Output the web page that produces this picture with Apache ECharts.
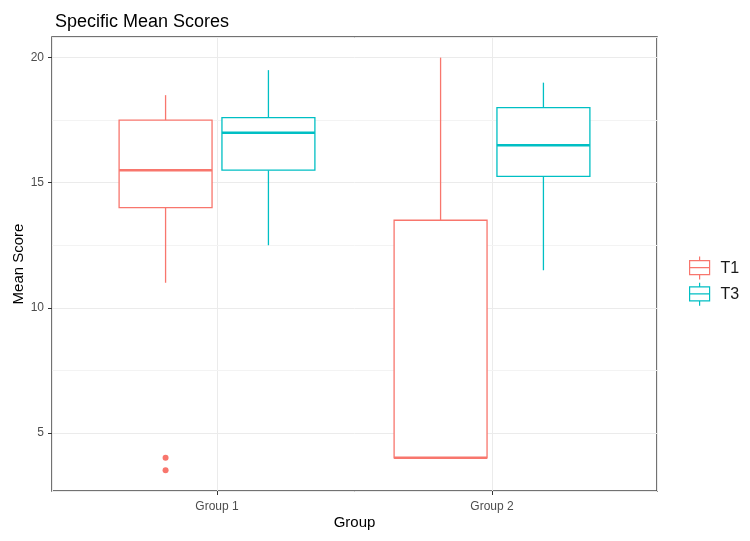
<!DOCTYPE html>
<html>
<head>
<meta charset="utf-8">
<script src="https://cdn.jsdelivr.net/npm/echarts@6/dist/echarts.min.js"></script>
<style>
  html, body { margin: 0; padding: 0; background: #fff; }
  #main { width: 750px; height: 541px; }
</style>
</head>
<body>
<div id="main"></div>
<script>
// 数据: [min, q1, median, q3, max]
var categories = ['Group 1', 'Group 2'];
var seriesNames = ['T1', 'T3'];
var t1Stats = [[11, 14, 15.5, 17.5, 18.5], [4, 4, 4, 13.5, 20]];
var t3Stats = [[12.5, 15.5, 17, 17.6, 19.5], [11.5, 15.25, 16.5, 18, 19]];
// [group index, value]
var t1Outliers = [[0, 4], [0, 3.5]];
var yTicks = [5, 10, 15, 20];
var yMinor = [7.5, 12.5, 17.5];

var colors = { T1: '#F8766D', T3: '#00BFC4' };
var dodge = 0.187;
var halfW = 0.169;

var myChart = echarts.init(document.getElementById('main'));

function boxRenderer(offset, color) {
  return function (params, api) {
    var x = api.value(0) + offset;
    var lo = api.value(1), q1 = api.value(2), med = api.value(3), q3 = api.value(4), hi = api.value(5);
    var pTL = api.coord([x - halfW, q3]);
    var pBR = api.coord([x + halfW, q1]);
    var pMedL = api.coord([x - halfW, med]);
    var pMedR = api.coord([x + halfW, med]);
    var pHi = api.coord([x, hi]);
    var pLo = api.coord([x, lo]);
    var lineStyle = { stroke: color, lineWidth: 1.3, fill: null };
    return {
      type: 'group',
      children: [
        { type: 'line', shape: { x1: pHi[0], y1: pHi[1], x2: pHi[0], y2: pTL[1] }, style: lineStyle },
        { type: 'line', shape: { x1: pLo[0], y1: pBR[1], x2: pLo[0], y2: pLo[1] }, style: lineStyle },
        { type: 'rect', shape: { x: pTL[0], y: pTL[1], width: pBR[0] - pTL[0], height: pBR[1] - pTL[1] },
          style: { stroke: color, lineWidth: 1.3, fill: '#fff' } },
        { type: 'line', shape: { x1: pMedL[0], y1: pMedL[1], x2: pMedR[0], y2: pMedR[1] },
          style: { stroke: color, lineWidth: 2.5 } }
      ]
    };
  };
}

function toData(stats) {
  return stats.map(function (d, i) { return [i + 1].concat(d); });
}

var keyPath = 'path://M10,0 L10,4 M0,4 L20,4 L20,18 L0,18 Z M0,11 L20,11 M10,18 L10,23';

myChart.setOption({
  backgroundColor: '#fff',
  animation: false,
  title: {
    text: 'Specific Mean Scores',
    left: 50,
    top: 8,
    textStyle: { fontFamily: 'Liberation Sans', fontSize: 18, fontWeight: 'normal', color: '#000' }
  },
  legend: {
    orient: 'vertical',
    left: 684,
    top: 251,
    itemWidth: 20,
    itemHeight: 23,
    itemGap: 2,
    textStyle: { fontFamily: 'Liberation Sans', fontSize: 16, color: '#1a1a1a', padding: [0, 0, 0, 6] },
    data: [
      { name: 'T1', icon: keyPath, itemStyle: { color: 'rgba(0,0,0,0)', borderColor: colors.T1, borderWidth: 1.2 } },
      { name: 'T3', icon: keyPath, itemStyle: { color: 'rgba(0,0,0,0)', borderColor: colors.T3, borderWidth: 1.2 } }
    ]
  },
  grid: {
    left: 52,
    right: 93,
    top: 37,
    bottom: 50,
    outerBoundsMode: 'none',
    containLabel: false,
    show: true,
    borderColor: '#444',
    borderWidth: 1.5,
    backgroundColor: 'transparent'
  },
  xAxis: {
    type: 'value',
    min: 0.4,
    max: 2.6,
    splitNumber: 2,
    name: 'Group',
    nameLocation: 'middle',
    nameGap: 24,
    nameMoveOverlap: false,
    nameTextStyle: { fontFamily: 'Liberation Sans', fontSize: 15, color: '#000' },
    axisLine: { show: false },
    axisTick: { show: true, length: 4, lineStyle: { color: '#333' } },
    axisLabel: {
      margin: 10,
      fontFamily: 'Liberation Sans',
      fontSize: 12,
      color: '#4D4D4D',
      showMinLabel: false,
      showMaxLabel: false,
      formatter: function (v) {
        return Number.isInteger(v) ? categories[v - 1] : '';
      }
    },
    splitLine: { show: true, lineStyle: { color: '#EBEBEB', width: 1 } }
  },
  yAxis: {
    type: 'value',
    min: 2.675,
    max: 20.825,
    splitNumber: 4,
    name: 'Mean Score',
    nameLocation: 'middle',
    nameGap: 26,
    nameMoveOverlap: false,
    nameTextStyle: { fontFamily: 'Liberation Sans', fontSize: 15, color: '#000' },
    axisLine: { show: false },
    axisTick: { show: true, length: 4, lineStyle: { color: '#333' } },
    axisLabel: {
      margin: 8,
      fontFamily: 'Liberation Sans',
      fontSize: 12,
      color: '#4D4D4D',
      showMinLabel: false,
      showMaxLabel: false,
      formatter: function (v) {
        return yTicks.indexOf(v) >= 0 ? String(v) : '';
      }
    },
    splitLine: { show: true, lineStyle: { color: '#EBEBEB', width: 1 } }
  },
  series: [
    {
      name: 'T1',
      type: 'custom',
      renderItem: boxRenderer(-dodge, colors.T1),
      itemStyle: { color: colors.T1 },
      encode: { x: 0, y: [1, 2, 3, 4, 5] },
      data: toData(t1Stats),
      z: 3,
      markLine: {
        silent: true,
        symbol: 'none',
        label: { show: false },
        lineStyle: { color: '#F3F3F3', width: 1, type: 'solid' },
        data: yMinor.map(function (v) { return { yAxis: v }; }),
        z: 1
      }
    },
    {
      name: 'T3',
      type: 'custom',
      renderItem: boxRenderer(dodge, colors.T3),
      itemStyle: { color: colors.T3 },
      encode: { x: 0, y: [1, 2, 3, 4, 5] },
      data: toData(t3Stats),
      z: 3
    },
    {
      name: 'T1',
      type: 'scatter',
      symbol: 'circle',
      symbolSize: 6,
      itemStyle: { color: colors.T1, opacity: 1 },
      data: t1Outliers.map(function (o) { return [o[0] + 1 - dodge, o[1]]; }),
      z: 4
    }
  ]
});
</script>
</body>
</html>
